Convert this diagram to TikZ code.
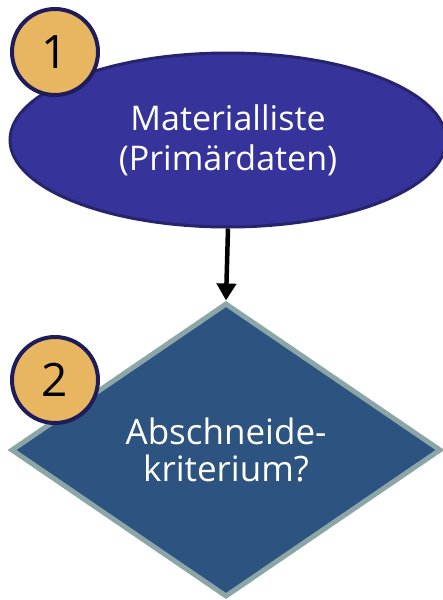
\documentclass[tikz,border=0pt]{standalone}
\usepackage{fontspec}
\setmainfont{Open Sans}
\usetikzlibrary{shapes.geometric,arrows.meta}
\definecolor{ovalblue}{HTML}{36339A}
\definecolor{ovalline}{HTML}{27246E}
\definecolor{diafill}{HTML}{2D5480}
\definecolor{dialine}{HTML}{8CA6A8}
\definecolor{badgefill}{HTML}{E8B660}
\definecolor{badgeline}{HTML}{1E1D5A}
\tikzset{
  badge/.style={circle, draw=badgeline, fill=badgefill, line width=4pt,
    minimum size=86pt, inner sep=0pt, font=\fontsize{46}{46}\selectfont},
  boxtext/.style={text=white, align=center,
    font=\fontsize{34}{40}\selectfont}
}
\begin{document}
\begin{tikzpicture}[x=1pt,y=-1pt]
	\useasboundingbox (0,0) rectangle (443,600);
	% Oval
	\node[ellipse, draw=ovalline, fill=ovalblue, line width=3pt, boxtext,
	  minimum width=436pt, minimum height=174pt, inner sep=0pt] (liste) at (228,140)
	  {Materialliste\\(Primärdaten)};
	% Diamond
	\node[diamond, draw=dialine, fill=diafill, line width=5pt, boxtext,
	  font=\fontsize{35}{37}\selectfont,
	  aspect=1.46, minimum width=430pt, minimum height=294pt, inner sep=0pt] (krit) at (226,450)
	  {Abschneide-\\kriterium?};
	% Arrow
	\draw[line width=4.5pt, -{Triangle[length=17pt,width=19pt]}] (liste.south) -- (krit.north);
	% Numbers
	\node[badge] (eins) at (55,52) {1};
	\node[badge] (zwei) at (55,380) {2};
\end{tikzpicture}
\end{document}
